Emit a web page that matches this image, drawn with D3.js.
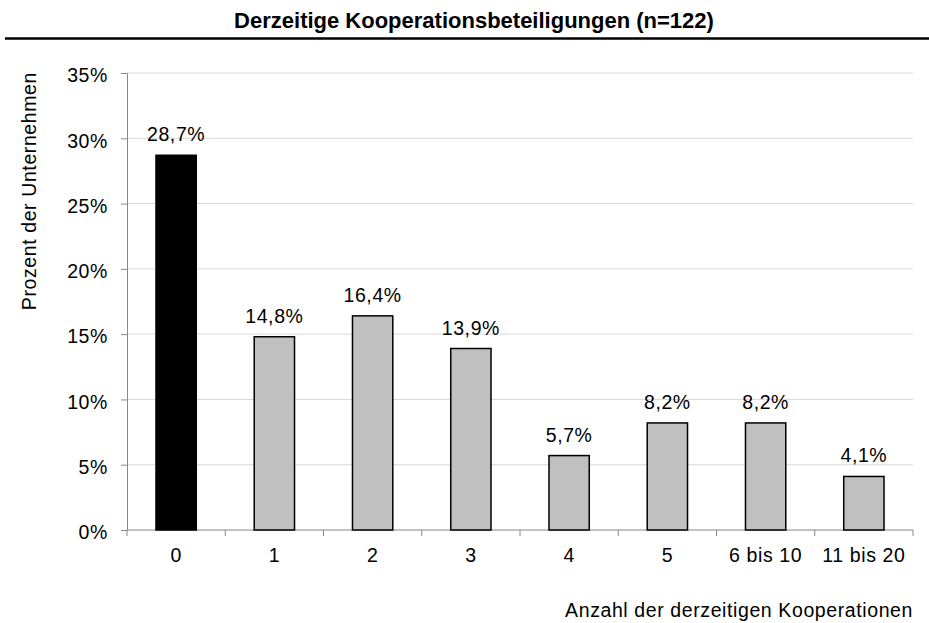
<!DOCTYPE html>
<html>
<head>
    <meta charset="utf-8">
    <style>
        body { margin: 0; background: #fff; }
        text { font-family: "Liberation Sans", Arial, sans-serif; }
    </style>
</head>
<body>
<script src="https://d3js.org/d3.v7.min.js"></script>
<script>
    const categories = ['0', '1', '2', '3', '4', '5', '6 bis 10', '11 bis 20'];
    const values = [28.7, 14.8, 16.4, 13.9, 5.7, 8.2, 8.2, 4.1];
    const yTicks = [0, 5, 10, 15, 20, 25, 30, 35];

    const W = 929, H = 623;
    const M = {left: 127, right: 16, top: 73, bottom: 93};
    const FS = '19.5px', LS = '0.6px';

    const svg = d3.select('body').append('svg')
        .attr('width', W)
        .attr('height', H);

    // title + rule
    svg.append('text')
        .attr('x', 474)
        .attr('y', 28)
        .attr('text-anchor', 'middle')
        .style('font-size', '22px')
        .style('font-weight', 'bold')
        .text('Derzeitige Kooperationsbeteiligungen (n=122)');
    svg.append('line')
        .attr('x1', 5).attr('x2', W)
        .attr('y1', 38.5).attr('y2', 38.5)
        .attr('stroke', '#000')
        .attr('stroke-width', 2.5);

    const x = d3.scaleBand()
        .domain(categories)
        .range([M.left, W - M.right])
        .paddingInner(0.59)
        .paddingOuter(0.295);
    const y = d3.scaleLinear()
        .domain([0, 35])
        .range([H - M.bottom, M.top]);

    // gridlines
    svg.append('g')
        .selectAll('line')
        .data(yTicks.slice(1))
        .join('line')
        .attr('x1', M.left).attr('x2', W - M.right)
        .attr('y1', d => y(d)).attr('y2', d => y(d))
        .attr('stroke', '#d9d9d9')
        .attr('stroke-width', 1);

    // y axis
    const yAxis = svg.append('g')
        .attr('transform', `translate(${M.left},0)`)
        .call(d3.axisLeft(y).tickValues(yTicks).tickFormat(d => d + '%').tickSize(6).tickPadding(13));
    yAxis.selectAll('path, line').attr('stroke', '#888');
    yAxis.selectAll('text')
        .attr('dy', '0.45em')
        .style('font-size', FS)
        .style('letter-spacing', LS)
        .attr('fill', '#000');

    // x axis with ticks between categories
    const xAxis = svg.append('g')
        .attr('transform', `translate(0,${y(0)})`);
    xAxis.append('line')
        .attr('x1', M.left).attr('x2', W - M.right)
        .attr('stroke', '#888');
    const step = x.step();
    xAxis.selectAll('.tk')
        .data(d3.range(categories.length + 1))
        .join('line')
        .attr('class', 'tk')
        .attr('x1', i => M.left + i * step).attr('x2', i => M.left + i * step)
        .attr('y1', 0).attr('y2', 6)
        .attr('stroke', '#888');
    xAxis.selectAll('.lbl')
        .data(categories)
        .join('text')
        .attr('class', 'lbl')
        .attr('x', d => x(d) + x.bandwidth() / 2)
        .attr('y', 32)
        .attr('text-anchor', 'middle')
        .style('font-size', FS)
        .style('letter-spacing', LS)
        .text(d => d);

    // bars
    svg.append('g')
        .selectAll('rect')
        .data(values)
        .join('rect')
        .attr('x', (d, i) => x(categories[i]))
        .attr('y', d => y(d))
        .attr('width', x.bandwidth())
        .attr('height', d => y(0) - y(d))
        .attr('fill', (d, i) => i === 0 ? '#000' : '#c0c0c0')
        .attr('stroke', '#000')
        .attr('stroke-width', 1.5);

    // value labels
    svg.append('g')
        .selectAll('text')
        .data(values)
        .join('text')
        .attr('x', (d, i) => x(categories[i]) + x.bandwidth() / 2)
        .attr('y', d => y(d) - 14)
        .attr('text-anchor', 'middle')
        .style('font-size', FS)
        .style('letter-spacing', LS)
        .text(d => d.toFixed(1).replace('.', ',') + '%');

    // axis titles
    svg.append('text')
        .attr('transform', 'translate(36,72) rotate(-90)')
        .attr('text-anchor', 'end')
        .style('font-size', FS)
        .style('letter-spacing', LS)
        .text('Prozent der Unternehmen');
    svg.append('text')
        .attr('x', W - M.right)
        .attr('y', 617)
        .attr('text-anchor', 'end')
        .style('font-size', FS)
        .style('letter-spacing', LS)
        .text('Anzahl der derzeitigen Kooperationen');
</script>
</body>
</html>
